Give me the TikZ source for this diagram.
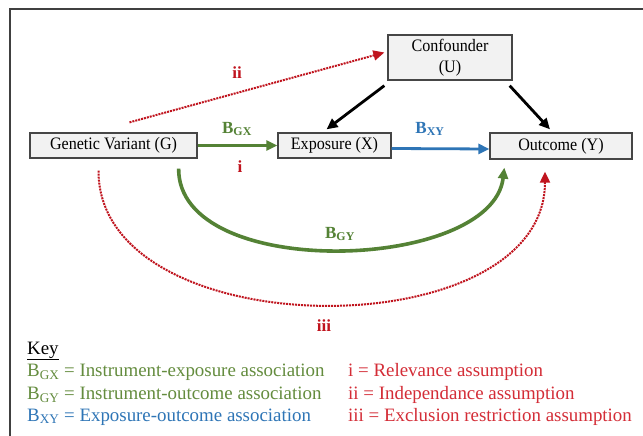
\documentclass[tikz,border=0pt]{standalone}
\usepackage{fontspec}
\setmainfont{Liberation Serif}
\newfontfamily\boxfont[FakeStretch=0.92]{Liberation Serif}
\usetikzlibrary{arrows.meta,calc}
\definecolor{cgreen}{RGB}{84,130,53}
\definecolor{kgreen}{RGB}{100,140,62}
\definecolor{cblue}{RGB}{46,117,182}
\definecolor{cred}{RGB}{192,20,30}
\definecolor{kred}{RGB}{212,45,55}
\definecolor{boxfill}{RGB}{242,242,242}
\definecolor{boxline}{RGB}{70,70,70}
\tikzset{
  varbox/.style={draw=boxline, line width=1.3pt, fill=boxfill, inner sep=0pt, align=center, font=\boxfont\fontsize{17.5}{21}\selectfont},
  tip/.style={-{Triangle[length=11pt,width=10pt]}},
  lbl/.style={font=\bfseries\fontsize{17}{19}\selectfont},
  keytxt/.style={anchor=west, inner sep=0pt, font=\fontsize{18.9}{21}\selectfont},
}
\begin{document}
\begin{tikzpicture}[x=1pt,y=-1pt]
\useasboundingbox (0,0) rectangle (643,436);
\fill[white] (0,0) rectangle (643,436);
% frame
\draw[line width=2.2pt, draw=black!75] (643,9) -- (10,9) -- (10,436);

% boxes
\node[varbox, minimum width=124pt, minimum height=45pt] (U) at (450,57.5) {Confounder\\(U)};
\node[varbox, minimum width=167pt, minimum height=25pt] (G) at (113.5,145.5) {Genetic Variant (G)};
\node[varbox, minimum width=113pt, minimum height=25pt] (X) at (334.5,145.5) {Exposure (X)};
\node[varbox, minimum width=142pt, minimum height=26pt] (Y) at (561,146) {Outcome (Y)};

% arrows
\draw[tip, cgreen, line width=2.8pt] (G.east) -- (X.west);
\draw[tip, cblue, line width=2.8pt] ($(X.east)+(0,3)$) -- ($(Y.west)+(0,3)$);
\draw[tip, black, line width=2.8pt] ($(U.south west)+(-3,5)$) -- ($(X.north)+(-8,-3)$);
\draw[tip, black, line width=2.8pt] ($(U.south east)+(-3,5)$) -- ($(Y.north)+(-11,-3)$);
\draw[tip, cred, line width=2pt, densely dotted] ($(G.north)+(16,-10)$) -- ($(U.west)+(-3,-5)$);
\draw[tip, cgreen, line width=3.6pt] ($(G.south east)+(-19,10)$) .. controls (178,282) and (492,272) .. ($(Y.south west)+(15,8)$);
\draw[tip, cred, line width=2pt, densely dotted] ($(G.south)+(-15,12)$) .. controls (98,348) and (545,350) .. ($(Y.south)+(-16,12)$);

% labels
\node[lbl, cgreen] (lgx) at (237,129) {B\textsubscript{GX}};
\node[lbl, cred] (li) at (240,167) {i};
\node[lbl, cblue] (lxy) at (430,129) {B\textsubscript{XY}};
\node[lbl, cred] (lii) at (237,73) {ii};
\node[lbl, cgreen] (lgy) at (340,234) {B\textsubscript{GY}};
\node[lbl, cred] (liii) at (324,326) {iii};

% key
\node[keytxt] (key) at (27,351) {\underline{Key}};
\node[keytxt, kgreen] (k1) at (27,372) {B\textsubscript{GX} = Instrument-exposure association};
\node[keytxt, kgreen] (k2) at (27,395) {B\textsubscript{GY} = Instrument-outcome association};
\node[keytxt, cblue] (k3) at (27,417) {B\textsubscript{XY} = Exposure-outcome association};
\node[keytxt, kred] (k4) at (348,372) {i = Relevance assumption};
\node[keytxt, kred] (k5) at (348,395) {ii = Independance assumption};
\node[keytxt, kred] (k6) at (348,417) {iii = Exclusion restriction assumption};
\end{tikzpicture}
\end{document}
